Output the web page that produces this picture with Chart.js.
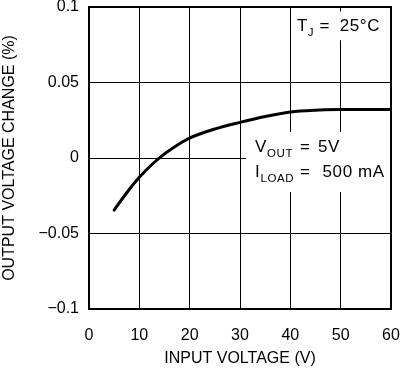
<!DOCTYPE html>
<html>
<head>
<meta charset="utf-8">
<script src="https://cdn.jsdelivr.net/npm/chart.js@4.4.1/dist/chart.umd.min.js"></script>
<style>
  html, body { margin: 0; padding: 0; background: #ffffff; }
  #wrap { width: 400px; height: 372px; position: relative; }
</style>
</head>
<body>
<div id="wrap"><canvas id="c" width="400" height="372"></canvas></div>
<script>
// ---- data ----
const inputVoltage = [5, 7.5, 10, 12.5, 15, 17.5, 20, 25, 30, 35, 40, 45, 50, 55, 60];
const outputChange = [-0.0345, -0.0230, -0.0128, -0.0043, 0.0027, 0.0085, 0.0132, 0.0192, 0.0236, 0.0275, 0.0305, 0.0317, 0.0321, 0.0322, 0.0322];
const xTicks = [0, 10, 20, 30, 40, 50, 60];
const yTicks = [-0.1, -0.05, 0, 0.05, 0.1];
const yTickLabels = ['\u22120.1', '\u22120.05', '0', '0.05', '0.1'];
const xTitle = 'INPUT VOLTAGE (V)';
const yTitle = 'OUTPUT VOLTAGE CHANGE (%)';
// annotation notes: [main symbol, subscript, value]
const noteTJ = ['T', 'J', '25\u00B0C'];
const noteVout = ['V', 'OUT', '5V'];
const noteIload = ['I', 'LOAD', '500 mA'];

const FONT = '"Liberation Sans", Arial, sans-serif';

function drawNote(ctx, xs, ys, note, xSym, xEq, xVal, yBase) {
  const bx = xs.getPixelForValue(xSym);
  const by = ys.getPixelForValue(yBase);
  ctx.font = '17px ' + FONT;
  ctx.fillText(note[0], bx, by);
  const w = ctx.measureText(note[0]).width;
  ctx.font = '11.5px ' + FONT;
  ctx.fillText(note[1], bx + w, by + 5);
  ctx.font = '17px ' + FONT;
  ctx.fillText('=', xs.getPixelForValue(xEq), by);
  ctx.fillText(note[2], xs.getPixelForValue(xVal), by);
}

const notesPlugin = {
  id: 'notes',
  beforeDatasetsDraw(chart) {
    const {ctx} = chart;
    const xs = chart.scales.x, ys = chart.scales.y;
    const rect = (x0, y0, x1, y1) => {
      const px0 = xs.getPixelForValue(x0), px1 = xs.getPixelForValue(x1);
      const py0 = ys.getPixelForValue(y0), py1 = ys.getPixelForValue(y1);
      ctx.fillRect(px0, py0, px1 - px0, py1 - py0);
    };
    ctx.save();
    ctx.fillStyle = '#ffffff';
    rect(40.8, 0.0970, 59.8, 0.0780);
    rect(31.2, 0.0172, 59.8, -0.0225);
    ctx.fillStyle = '#000000';
    ctx.textBaseline = 'alphabetic';
    ctx.textAlign = 'left';
    ctx.letterSpacing = '0.6px';
    drawNote(ctx, xs, ys, noteTJ, 41.3, 45.8, 49.8, 0.0841);
    drawNote(ctx, xs, ys, noteVout, 33.0, 41.9, 45.5, 0.0040);
    drawNote(ctx, xs, ys, noteIload, 33.0, 41.9, 46.4, -0.0126);
    ctx.restore();
  },
  afterDraw(chart) {
    const {ctx, chartArea: a} = chart;
    ctx.save();
    ctx.strokeStyle = '#000';
    ctx.lineWidth = 2;
    ctx.strokeRect(a.left, a.top, a.right - a.left, a.bottom - a.top);
    ctx.restore();
  }
};

new Chart(document.getElementById('c'), {
  type: 'line',
  data: {
    datasets: [{
      data: inputVoltage.map((v, i) => ({x: v, y: outputChange[i]})),
      borderColor: '#000000',
      borderWidth: 3,
      borderCapStyle: 'round',
      pointRadius: 0,
      cubicInterpolationMode: 'monotone',
      fill: false
    }]
  },
  options: {
    responsive: false,
    animation: false,
    devicePixelRatio: 1,
    layout: { autoPadding: false, padding: { top: 7, right: 9, left: 0, bottom: 0 } },
    plugins: { legend: { display: false }, tooltip: { enabled: false } },
    scales: {
      x: {
        type: 'linear',
        min: 0, max: 60,
        afterBuildTicks: s => { s.ticks = xTicks.map(v => ({value: v})); },
        afterFit: s => { s.height = 63; s.paddingLeft = 0; s.paddingRight = 0; },
        grid: { color: '#000', lineWidth: 1, drawTicks: false },
        border: { display: false },
        ticks: { color: '#000', font: { family: FONT, size: 16 }, padding: 17, maxRotation: 0 },
        title: { display: true, text: xTitle, color: '#000', font: { family: FONT, size: 16 }, padding: { top: 0, bottom: 4 } }
      },
      y: {
        type: 'linear',
        min: -0.1, max: 0.1,
        afterBuildTicks: s => { s.ticks = yTicks.map(v => ({value: v})); },
        afterFit: s => { s.width = 89; s.paddingTop = 0; s.paddingBottom = 0; },
        grid: { color: '#000', lineWidth: 1, drawTicks: false },
        border: { display: false },
        ticks: { color: '#000', font: { family: FONT, size: 16 }, padding: 10,
          callback: (v) => { const i = yTicks.findIndex(t => Math.abs(t - v) < 1e-9); return i >= 0 ? yTickLabels[i] : ''; } },
        title: { display: true, text: yTitle, color: '#000', font: { family: FONT, size: 16 }, padding: { top: 0, bottom: 0 } }
      }
    }
  },
  plugins: [notesPlugin]
});
</script>
</body>
</html>
